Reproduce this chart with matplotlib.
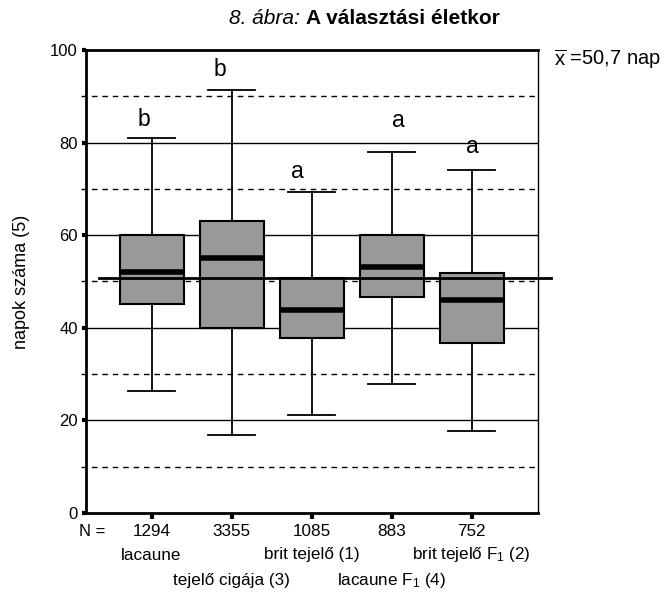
import numpy as np
import matplotlib
matplotlib.use("Agg")
import matplotlib.pyplot as plt
from matplotlib import transforms

plt.rcParams['font.family'] = ['Liberation Sans', 'DejaVu Sans']
plt.rcParams['mathtext.fontset'] = 'custom'
plt.rcParams['mathtext.rm'] = 'Liberation Sans'
plt.rcParams['mathtext.it'] = 'Liberation Sans:italic'
plt.rcParams['mathtext.sf'] = 'Liberation Sans'

# breed groups and their summary statistics (days)
groups = ["lacaune", "tejelő cigája (3)", "brit tejelő (1)",
          "lacaune F$_1$ (4)", "brit tejelő F$_1$ (2)"]
n_counts = [1294, 3355, 1085, 883, 752]
whis_lo = [26.4, 16.8, 21.2, 27.8, 17.8]
q1 = [45.1, 40.0, 37.7, 46.7, 36.7]
median = [52.1, 55.0, 43.8, 53.1, 45.9]
q3 = [60.0, 63.1, 50.7, 60.0, 51.8]
whis_hi = [81.0, 91.4, 69.4, 78.0, 74.1]
letters = ["b", "b", "a", "a", "a"]
overall_mean = 50.7

# placement of the significance letters relative to the whisker top
letter_dx = [-0.09, -0.14, -0.18, 0.08, 0.01]
letter_dy = [4.0, 4.3, 4.3, 6.7, 5.0]

fig = plt.figure(figsize=(6.72, 5.94), dpi=100)
ax = fig.add_axes([0.128, 0.1364, 0.6726, 0.7794])

pos = np.arange(1, len(groups) + 1)

# reference grid: solid every 20, dashed in between
for y in [20, 40, 60, 80]:
    ax.axhline(y, color="black", lw=1.0, zorder=1)
for y in [10, 30, 50, 70, 90]:
    ax.axhline(y, xmin=-0.01, color="black", lw=1.0, ls=(0, (4, 3.5)),
               zorder=1, clip_on=False)

stats = []
for i in range(len(groups)):
    stats.append(dict(whislo=whis_lo[i], q1=q1[i], med=median[i],
                      q3=q3[i], whishi=whis_hi[i], fliers=[]))

ax.bxp(stats, positions=pos, widths=0.8, patch_artist=True,
       showfliers=False,
       boxprops=dict(facecolor="#999999", edgecolor="black", lw=1.5),
       medianprops=dict(color="black", lw=4, solid_capstyle="butt"),
       whiskerprops=dict(color="black", lw=1.3),
       capprops=dict(color="black", lw=1.3),
       capwidths=0.58, zorder=3)

# overall mean line
ax.axhline(overall_mean, xmin=0.029, xmax=1.029, color="black", lw=2.0,
           zorder=4, clip_on=False)
ax.text(1.035, 0.98, r"$\overline{\mathrm{x}}$ =50,7 nap", transform=ax.transAxes,
        fontsize=14.5, ha="left", va="center")

for i in range(len(groups)):
    ax.text(pos[i] + letter_dx[i], whis_hi[i] + letter_dy[i], letters[i],
            fontsize=16.5, ha="center", va="center", zorder=5)

ax.set_xlim(0.18, 5.83)
ax.set_ylim(0, 100)
ax.set_yticks([0, 20, 40, 60, 80, 100])
ax.set_xticks(pos)
ax.set_xticklabels([])
ax.tick_params(axis="y", length=3, width=3, labelsize=12, pad=3)
ax.tick_params(axis="x", length=4, width=3, pad=0)

for side in ["left", "top", "bottom"]:
    ax.spines[side].set_linewidth(2.0)
ax.spines["right"].set_linewidth(1.0)

ax.set_ylabel("napok száma (5)", fontsize=13, labelpad=14)

# N counts and staggered group names under the axis
trans = transforms.blended_transform_factory(ax.transData, fig.transFigure)
fig.text(0.137, 1 - 532 / 594, "N =", fontsize=12, ha="center", va="center")
for i in range(len(groups)):
    ax.text(pos[i], 1 - 532 / 594, str(n_counts[i]), transform=trans,
            fontsize=12.3, ha="center", va="center")
    row_y = 555 if i % 2 == 0 else 581
    ax.text(pos[i], 1 - row_y / 594, groups[i], transform=trans,
            fontsize=12.3, ha="center", va="center")

fig.text(0.455, 1 - 18 / 594, "8. ábra: ", fontsize=15, style="italic",
         ha="right", va="center")
fig.text(0.455, 1 - 18 / 594, "A választási életkor", fontsize=15,
         weight="bold", ha="left", va="center")

fig.savefig("out.png", dpi=100)
